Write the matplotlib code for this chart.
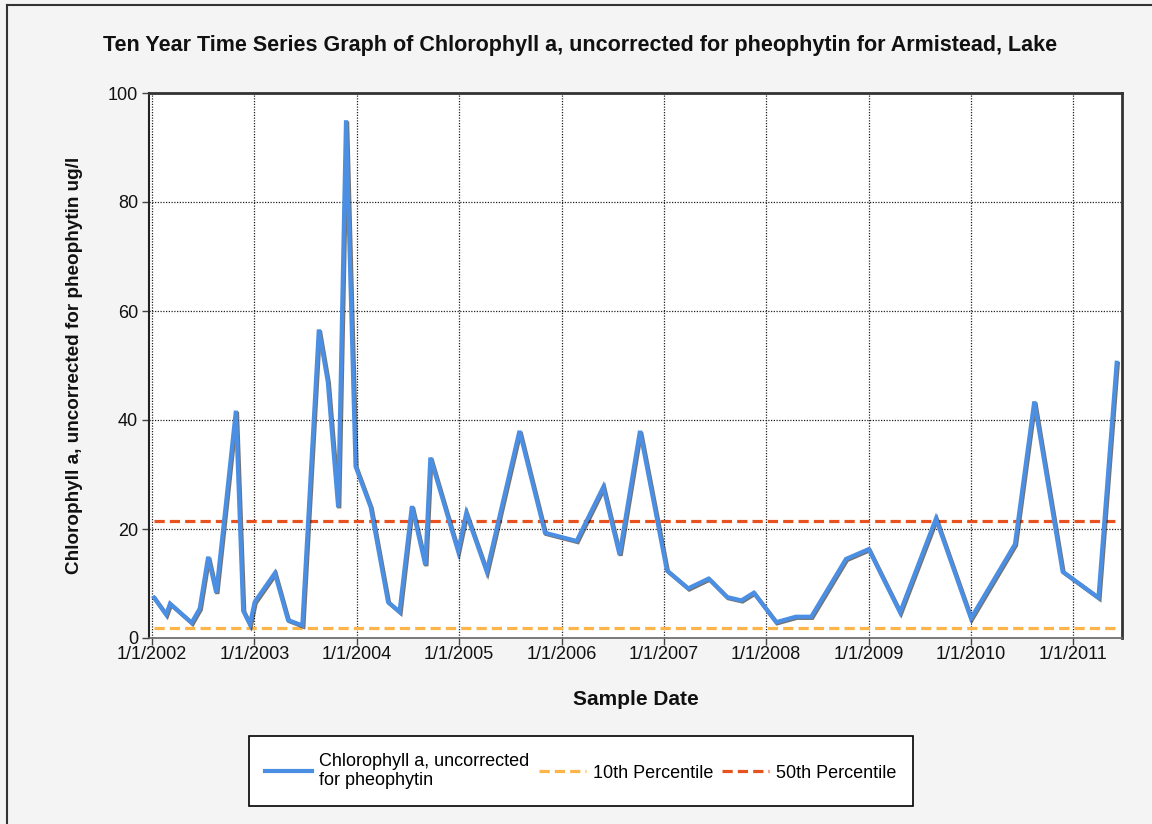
import matplotlib
matplotlib.use("Agg")
import matplotlib.pyplot as plt
import matplotlib.patheffects as pe
from matplotlib.lines import Line2D
import pandas as pd

plt.rcParams['font.family'] = ['Liberation Sans', 'DejaVu Sans']

# ---- data ----
dates = [
    "2002-01-08", "2002-02-20", "2002-03-06", "2002-05-22", "2002-06-20",
    "2002-07-20", "2002-08-18", "2002-09-24", "2002-10-27", "2002-11-22",
    "2002-12-16", "2003-01-02", "2003-03-15", "2003-05-01", "2003-06-21",
    "2003-07-16", "2003-08-19", "2003-09-20", "2003-10-27", "2003-11-24",
    "2003-12-28", "2004-02-20", "2004-04-22", "2004-06-02", "2004-07-16",
    "2004-09-02", "2004-09-20", "2004-12-28", "2005-01-26", "2005-04-09",
    "2005-08-04", "2005-11-03", "2006-02-24", "2006-05-30", "2006-07-27",
    "2006-10-08", "2007-01-12", "2007-03-29", "2007-06-10", "2007-08-15",
    "2007-10-05", "2007-11-18", "2008-02-06", "2008-04-16", "2008-06-10",
    "2008-10-12", "2009-01-01", "2009-04-23", "2009-08-29", "2010-01-01",
    "2010-06-07", "2010-08-15", "2010-11-24", "2011-04-01", "2011-06-05",
]
chl_values = [
    7.4, 4.3, 6.3, 2.8, 5.4,
    14.9, 8.3, 25.8, 41.7, 5.0,
    2.5, 6.6, 11.9, 3.3, 2.3,
    25.2, 56.6, 47.0, 24.0, 95.0,
    31.5, 24.0, 6.6, 4.8, 24.2,
    13.4, 33.1, 15.9, 22.9, 12.2,
    38.0, 19.3, 17.8, 27.7, 15.3,
    38.0, 12.4, 9.1, 10.9, 7.5,
    6.9, 8.3, 2.9, 3.9, 3.9,
    14.5, 16.3, 4.7, 21.9, 3.6,
    17.2, 43.4, 12.2, 7.4, 50.5,
]
p10_value = 1.8
p50_value = 21.5
year_ticks = [f"{y}-01-01" for y in range(2002, 2012)]
year_labels = [f"1/1/{y}" for y in range(2002, 2012)]
y_ticks = [0, 20, 40, 60, 80, 100]

title = "Ten Year Time Series Graph of Chlorophyll a, uncorrected for pheophytin for Armistead, Lake"
ylabel = "Chlorophyll a, uncorrected for pheophytin ug/l"
xlabel = "Sample Date"
series_label = "Chlorophyll a, uncorrected\nfor pheophytin"

# ---- figure ----
bg = "#f4f4f4"
fig = plt.figure(figsize=(11.52, 8.24), dpi=100, facecolor=bg)
ax = fig.add_axes([149/1152, 1 - 638/824, (1122-149)/1152, (638-93)/824])
ax.set_facecolor("white")

d = pd.to_datetime(dates)
line, = ax.plot(d, chl_values, color="#4a8fe3", lw=3.0, solid_joinstyle="miter",
                label=series_label, zorder=4,
                path_effects=[pe.SimpleLineShadow(offset=(0.8, -0.8), shadow_color="black", alpha=0.55),
                              pe.Normal()])
l10, = ax.plot([d[0], d[-1]], [p10_value, p10_value], color="#fdb54a", lw=2.3,
               dashes=(3.2, 1.6), label="10th Percentile", zorder=3)
l50, = ax.plot([d[0], d[-1]], [p50_value, p50_value], color="#e8521f", lw=2.3,
               dashes=(3.2, 1.6), label="50th Percentile", zorder=3)

ax.set_xlim(pd.Timestamp("2001-12-21"), pd.Timestamp("2011-06-24"))
ax.set_ylim(0, 100)
ax.set_xticks(pd.to_datetime(year_ticks))
ax.set_xticklabels(year_labels)
ax.set_yticks(y_ticks)
ax.tick_params(axis="both", direction="out", length=5, width=1, color="#444444",
               labelsize=13, labelcolor="#111111")
ax.tick_params(axis="x", pad=1)
ax.tick_params(axis="y", pad=3)
ax.grid(True, color="#222222", linestyle=(0, (1, 1.2)), linewidth=0.9)
ax.set_axisbelow(True)
for side in ["top", "right"]:
    ax.spines[side].set_color("#333333")
    ax.spines[side].set_linewidth(2)
ax.spines["left"].set_color("#222222")
ax.spines["left"].set_linewidth(1.5)
ax.spines["bottom"].set_color("#666666")
ax.spines["bottom"].set_linewidth(1.2)

fig.text(580/1152, 1 - 45/824, title, ha="center", va="center",
         fontsize=15.5, fontweight="bold", color="#111111")
ax.set_xlabel(xlabel, fontsize=15, fontweight="bold", labelpad=19, color="#111111")
ax.set_ylabel(ylabel, fontsize=13.6, fontweight="bold", labelpad=18, color="#111111")

leg = fig.legend(handles=[line, l10, l50],
                 loc="center", bbox_to_anchor=(581/1152, 1 - 771/824),
                 ncol=3, frameon=True, fancybox=False, edgecolor="black",
                 facecolor="white", framealpha=1, fontsize=13,
                 handlelength=2.6, columnspacing=0.5, handletextpad=0.4,
                 borderpad=0.9, labelspacing=0.2)
leg.get_frame().set_linewidth(1.2)
for h in leg.legend_handles:
    h.set_path_effects([])

# outer border (left and top)
fig.add_artist(Line2D([7/1152, 7/1152], [0, 1 - 5/824], transform=fig.transFigure,
                      color="#333333", lw=1.5))
fig.add_artist(Line2D([7/1152, 1], [1 - 5/824, 1 - 5/824], transform=fig.transFigure,
                      color="#333333", lw=1.5))

fig.savefig("out.png", dpi=100, facecolor=bg)
